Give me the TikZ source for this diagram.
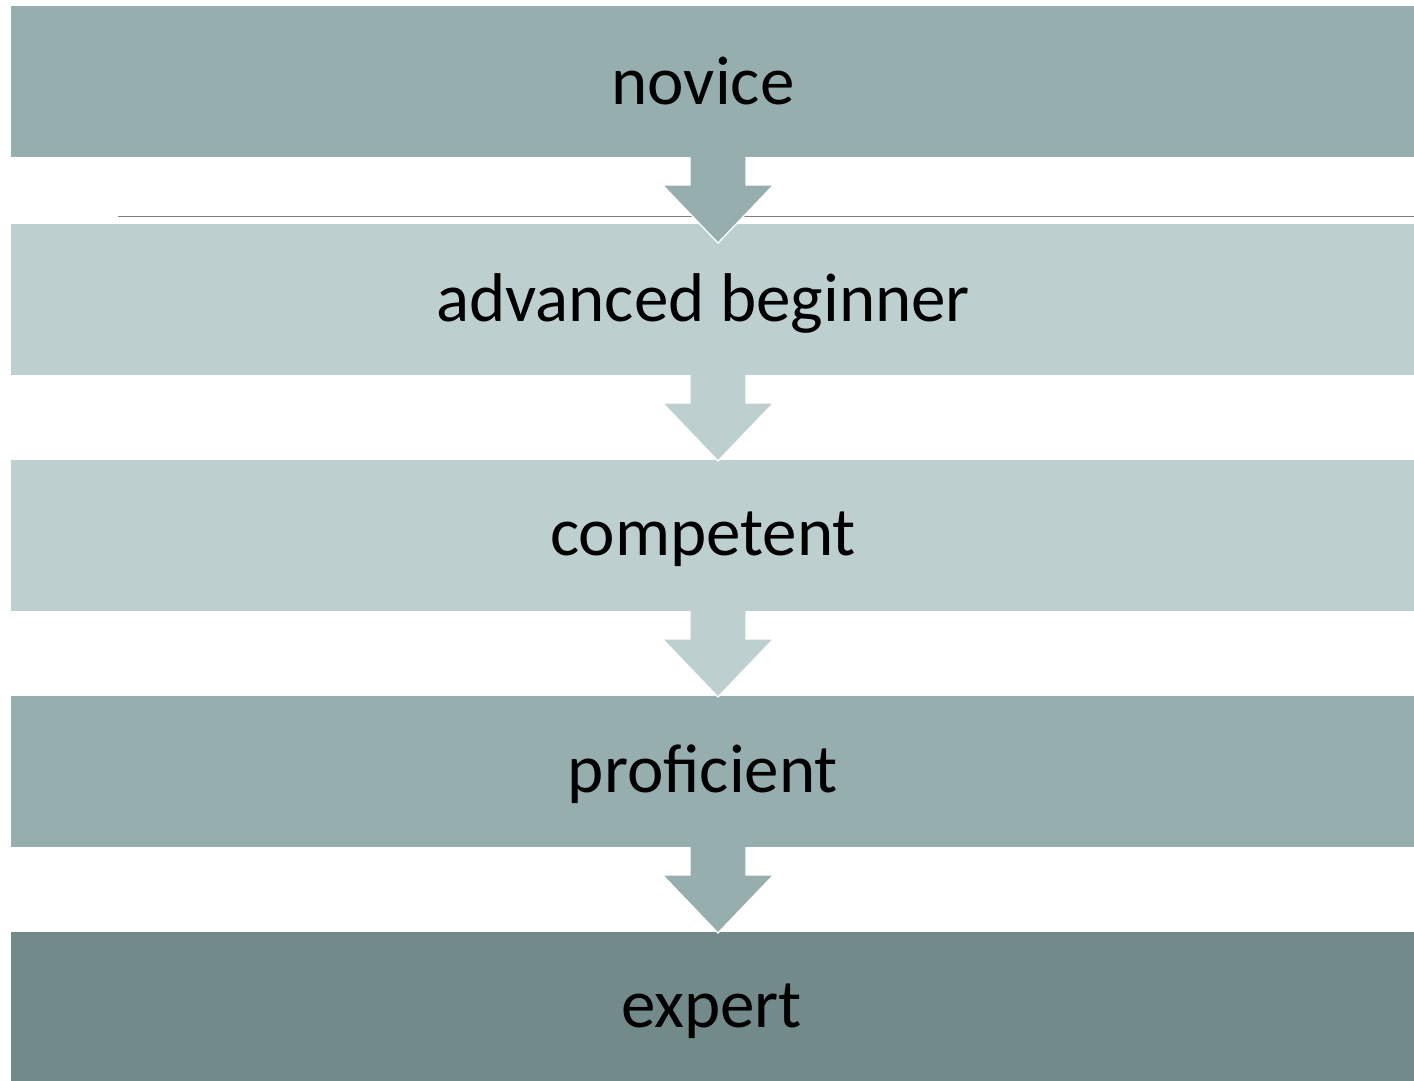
\documentclass[tikz,border=0pt]{standalone}
\usepackage{fontspec}
\setmainfont{Carlito}
\usetikzlibrary{calc}
\definecolor{cdark}{RGB}{114,138,137}
\definecolor{cmid}{RGB}{150,174,174}
\definecolor{clight}{RGB}{189,208,207}
\tikzset{
  stagebox/.style={anchor=north west, minimum width=1403pt, minimum height=151pt,
    inner sep=0pt, outer sep=0pt, fill=#1, text=black,
    font=\fontsize{69pt}{80pt}\selectfont},
  arrowedge/.style={draw=white, line width=1.3pt},
}
\newcommand\shiftedtext[3]{\raisebox{#2}[\height][\depth]{\hspace*{#1}#3}}
\newcommand\stagearrow[3]{%
  \coordinate (#3) at ($(#1.south)+(5.5pt,0)$);
  \fill[#2] ($(#3)+(-28pt,0)$) -- ($(#3)+(-28pt,-28pt)$) -- ($(#3)+(-55.5pt,-28pt)$)
    -- ($(#3)+(0,-86pt)$) -- ($(#3)+(55.5pt,-28pt)$) -- ($(#3)+(28pt,-28pt)$)
    -- ($(#3)+(28pt,0)$) -- cycle;
  \draw[arrowedge] ($(#3)+(-28pt,0)$) -- ($(#3)+(-28pt,-28pt)$) -- ($(#3)+(-55.5pt,-28pt)$)
    -- ($(#3)+(0,-86pt)$) -- ($(#3)+(55.5pt,-28pt)$) -- ($(#3)+(28pt,-28pt)$)
    -- ($(#3)+(28pt,0)$);
}
\begin{document}
\begin{tikzpicture}[x=1pt,y=1pt]
\useasboundingbox (0,0) rectangle (1414,-1081);
\fill[white] (0,0) rectangle (1414,-1081);
\node[stagebox=cmid] (b1) at (11,-6) {\shiftedtext{-19pt}{1pt}{novice}};
\node[stagebox=clight] (b2) at (11,-224) {\shiftedtext{-19pt}{-4pt}{advanced beginner}};
\node[stagebox=clight] (b3) at (11,-460) {\shiftedtext{-19pt}{-4pt}{competent}};
\node[stagebox=cmid] (b4) at (11,-696) {\shiftedtext{-19pt}{-3pt}{proficient}};
\node[stagebox=cdark, minimum height=150pt] (b5) at (11,-932) {\shiftedtext{-2pt}{-4pt}{expert}};
\coordinate (l1) at (118,-216);
\coordinate (l2) at (1414,-216);
\draw[gray, line width=1pt] (l1) -- (l2);
\stagearrow{b1}{cmid}{a1}
\stagearrow{b2}{clight}{a2}
\stagearrow{b3}{clight}{a3}
\stagearrow{b4}{cmid}{a4}
\end{tikzpicture}
\end{document}
